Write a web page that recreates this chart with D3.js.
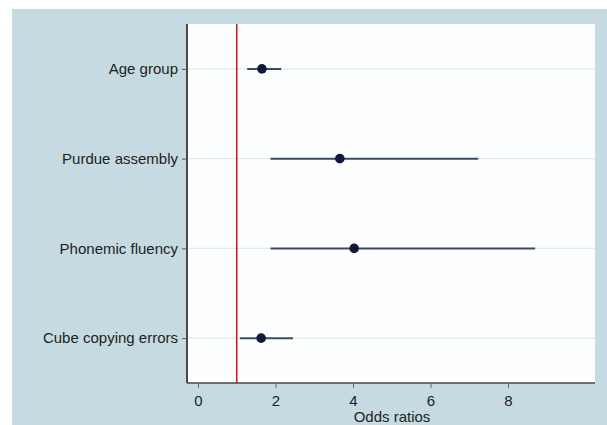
<!DOCTYPE html>
<html>
<head>
<meta charset="utf-8">
<script src="https://cdn.jsdelivr.net/npm/d3@7"></script>
<style>
  html, body { margin: 0; padding: 0; background: #ffffff; }
  svg { display: block; }
  text { font-family: "Liberation Sans", Arial, Helvetica, sans-serif; }
</style>
</head>
<body>
<svg id="chart" width="607" height="425"></svg>
<script>
// ---- data ----
const categories = ["Age group", "Purdue assembly", "Phonemic fluency", "Cube copying errors"];
const oddsRatio  = [1.65, 3.66, 4.03, 1.63];
const ciLower    = [1.27, 1.87, 1.87, 1.08];
const ciUpper    = [2.15, 7.23, 8.70, 2.45];
const xTicks     = [0, 2, 4, 6, 8];
const refValue   = 1;
const xTitle     = "Odds ratios";

// ---- layout ----
const W = 607, H = 425;
const plot = { left: 187, right: 595, top: 24, bottom: 383 };

const svg = d3.select("#chart");

// outer background
svg.append("rect").attr("x", 12).attr("y", 9).attr("width", W - 12).attr("height", H - 9)
  .attr("fill", "#c5dbe1");

// plot region
svg.append("rect").attr("x", plot.left).attr("y", plot.top)
  .attr("width", plot.right - plot.left).attr("height", plot.bottom - plot.top)
  .attr("fill", "#fdfefe");

const x = d3.scaleLinear().domain([0, 8]).range([198, 508]);
const y = d3.scalePoint().domain(categories).range([plot.top, plot.bottom]).padding(0.5);

// grid lines
svg.append("g").selectAll("line").data(categories).join("line")
  .attr("x1", plot.left).attr("x2", plot.right)
  .attr("y1", d => y(d)).attr("y2", d => y(d))
  .attr("stroke", "#dfeaee").attr("stroke-width", 1.2);

// reference line
svg.append("line")
  .attr("x1", x(refValue)).attr("x2", x(refValue))
  .attr("y1", plot.top).attr("y2", plot.bottom)
  .attr("stroke", "#c8202a").attr("stroke-width", 1.6);

// y axis
const yAxis = svg.append("g").attr("transform", `translate(${plot.left},0)`)
  .call(d3.axisLeft(y).tickSize(5).tickPadding(4));
yAxis.select(".domain").attr("stroke", "#4a4a4a").attr("stroke-width", 2)
  .attr("d", `M0,${plot.top}V${plot.bottom}`);
yAxis.selectAll(".tick line").attr("stroke", "#555");
yAxis.selectAll(".tick text").attr("font-size", 15).attr("fill", "#1e1e1e");

// x axis
const xAxis = svg.append("g").attr("transform", `translate(0,${plot.bottom})`)
  .call(d3.axisBottom(x).tickValues(xTicks).tickFormat(d3.format("d")).tickSize(5).tickPadding(7));
xAxis.select(".domain").attr("stroke", "#4a4a4a").attr("stroke-width", 1.5)
  .attr("d", `M${plot.left},0H${plot.right}`);
xAxis.selectAll(".tick line").attr("stroke", "#666");
xAxis.selectAll(".tick text").attr("font-size", 15).attr("fill", "#1e1e1e");

// x title
svg.append("text").attr("x", x(4) + 39).attr("y", 422)
  .attr("text-anchor", "middle").attr("font-size", 15).attr("fill", "#1e1e1e")
  .text(xTitle);

// CI lines
svg.append("g").selectAll("line").data(categories).join("line")
  .attr("x1", (d, i) => x(ciLower[i])).attr("x2", (d, i) => x(ciUpper[i]))
  .attr("y1", d => y(d)).attr("y2", d => y(d))
  .attr("stroke", "#3d4a66").attr("stroke-width", 2);

// points
svg.append("g").selectAll("circle").data(categories).join("circle")
  .attr("cx", (d, i) => x(oddsRatio[i])).attr("cy", d => y(d))
  .attr("r", 4.8).attr("fill", "#0f1a3a");
</script>
</body>
</html>
